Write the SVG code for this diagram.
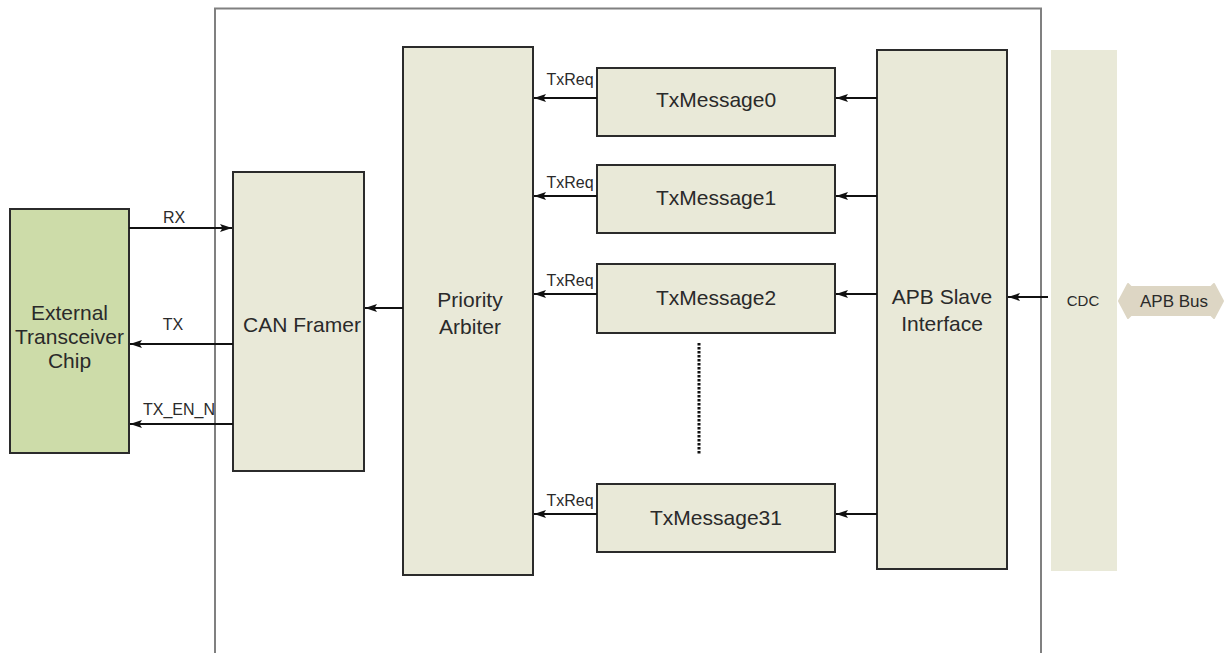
<svg xmlns="http://www.w3.org/2000/svg" width="1226" height="653" viewBox="0 0 1226 653">
<style>
.blk{fill:#e9e9d8;stroke:#2b2b2b;stroke-width:2}
.chip{fill:#cddca9;stroke:#2b2b2b;stroke-width:2}
.t{font-family:"Liberation Sans",Arial,sans-serif;font-size:21px;fill:#2a2a2a;text-anchor:middle}
.s{font-family:"Liberation Sans",Arial,sans-serif;font-size:16px;fill:#2a2a2a;text-anchor:middle}
.c{stroke:#111;stroke-width:2;fill:none;marker-end:url(#ah)}
</style>
<defs>
<marker id="ah" viewBox="0 0 12 8" refX="12" refY="4" markerWidth="12" markerHeight="8" markerUnits="userSpaceOnUse" orient="auto"><path d="M0,0L12,4L0,8L2.5,4z" fill="#111"/></marker>
</defs>
<rect width="1226" height="653" fill="#fff"/>
<path d="M215,660V8.5H1041V660" fill="none" stroke="#808080" stroke-width="2"/>
<g id="chip"><rect class="chip" x="10" y="209" width="119" height="244"/><text class="t" x="69.5" y="320">External</text><text class="t" x="69.5" y="344">Transceiver</text><text class="t" x="69.5" y="368">Chip</text></g>
<g id="canframer"><rect class="blk" x="233" y="172" width="131" height="299"/><text class="t" x="302" y="332">CAN Framer</text></g>
<g id="arbiter"><rect class="blk" x="403" y="47" width="130" height="528"/><text class="t" x="470" y="307">Priority</text><text class="t" x="470" y="334">Arbiter</text></g>
<g id="txmsg0"><rect class="blk" x="597" y="68" width="238" height="68"/><text class="t" x="716" y="107">TxMessage0</text></g>
<g id="txmsg1"><rect class="blk" x="597" y="165" width="238" height="68"/><text class="t" x="716" y="205">TxMessage1</text></g>
<g id="txmsg2"><rect class="blk" x="597" y="264" width="238" height="69"/><text class="t" x="716" y="305">TxMessage2</text></g>
<g id="txmsg31"><rect class="blk" x="597" y="484" width="238" height="68"/><text class="t" x="716" y="525">TxMessage31</text></g>
<g id="apbslave"><rect class="blk" x="877" y="50" width="130" height="519"/><text class="t" x="942" y="304">APB Slave</text><text class="t" x="942" y="331">Interface</text></g>
<g id="cdc"><rect x="1051" y="50" width="66" height="521" fill="#e9e9d8"/><text class="s" x="1083" y="306" style="font-size:15px">CDC</text></g>
<g id="apbbus"><path d="M1119,301L1128,284L1131,287H1211L1214,284L1223,301L1214,318L1211,315H1131L1128,318z" fill="#ddd6c4" stroke="#ddd6c4" stroke-width="2" stroke-linejoin="round"/><text class="s" x="1174" y="307" style="font-size:17px">APB Bus</text></g>
<g id="connectors">
<line class="c" x1="129" y1="228" x2="232" y2="228"/>
<line class="c" x1="233" y1="344" x2="130" y2="344"/>
<line class="c" x1="233" y1="424" x2="130" y2="424"/>
<line class="c" x1="403" y1="308" x2="365" y2="308"/>
<line class="c" x1="597" y1="98" x2="534" y2="98"/>
<line class="c" x1="597" y1="196" x2="534" y2="196"/>
<line class="c" x1="597" y1="294" x2="534" y2="294"/>
<line class="c" x1="597" y1="514" x2="534" y2="514"/>
<line class="c" x1="877" y1="98" x2="836" y2="98"/>
<line class="c" x1="877" y1="196" x2="836" y2="196"/>
<line class="c" x1="877" y1="294" x2="836" y2="294"/>
<line class="c" x1="877" y1="514" x2="836" y2="514"/>
<line class="c" x1="1048" y1="297" x2="1008" y2="297"/>
<line x1="699" y1="343" x2="699" y2="455" stroke="#111" stroke-width="3" stroke-dasharray="2.5 1.5"/>
</g>
<text class="s" x="174" y="223">RX</text>
<text class="s" x="173" y="330">TX</text>
<text class="s" x="179" y="415">TX_EN_N</text>
<text class="s" x="570" y="85">TxReq</text>
<text class="s" x="570" y="188">TxReq</text>
<text class="s" x="570" y="286">TxReq</text>
<text class="s" x="570" y="506">TxReq</text>
</svg>
